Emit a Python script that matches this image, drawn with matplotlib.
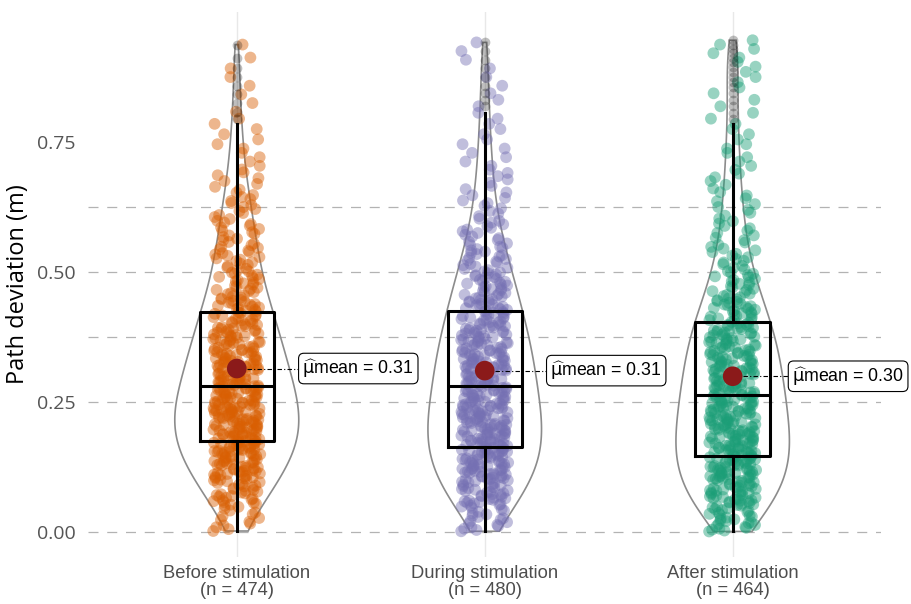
import numpy as np
import matplotlib
matplotlib.use("Agg")
import matplotlib.pyplot as plt
from matplotlib.patches import Polygon

# Path deviation per stimulation phase, stored as counts per 0.05 m bin
groups = ["Before stimulation", "During stimulation", "After stimulation"]
colors = ["#D95F02", "#7570B3", "#1B9E77"]
bin_lo = [0.00, 0.05, 0.10, 0.15, 0.20, 0.25, 0.30, 0.35, 0.40, 0.45,
          0.50, 0.55, 0.60, 0.65, 0.70, 0.75, 0.80, 0.85, 0.90]
before_counts = [14, 30, 46, 57, 58, 52, 45, 39, 32, 24, 20, 16, 13, 9, 6, 5, 3, 3, 2]
during_counts = [20, 36, 50, 53, 52, 47, 45, 40, 34, 28, 21, 15, 10, 8, 6, 5, 4, 3, 3]
after_counts = [28, 42, 51, 51, 48, 45, 42, 38, 30, 21, 15, 11, 9, 7, 6, 5, 4, 5, 6]
BIN_W = 0.05
label_offsets = [0.25, 0.25, 0.225]


def expand(counts):
    vals = []
    for lo, c in zip(bin_lo, counts):
        for k in range(c):
            vals.append(lo + (k + 0.5) / c * BIN_W)
    return np.array(vals)


def kde(vals, grid):
    n = len(vals)
    q1, q3 = np.percentile(vals, [25, 75])
    bw = 0.9 * min(vals.std(ddof=1), (q3 - q1) / 1.34) * n ** -0.2
    z = (grid[:, None] - vals[None, :]) / bw
    return np.exp(-0.5 * z ** 2).sum(axis=1) / (n * bw * np.sqrt(2 * np.pi))


data = [expand(before_counts), expand(during_counts), expand(after_counts)]
positions = [1, 2, 3]

fig = plt.figure(figsize=(9.12, 6.04), dpi=100)
ax = fig.add_axes([0.0965, 0.078, 0.870, 0.902])
ax.set_xlim(0.4, 3.6)
ax.set_ylim(-0.048, 1.0)

for y in [0, 0.25, 0.375, 0.5, 0.625]:
    ax.axhline(y, color="#b3b3b3", lw=0.9, ls=(0, (8, 7)), zorder=0)
for x in positions:
    ax.axvline(x, color="#e8e8e8", lw=1.0, zorder=0)

# violins (area scaled, trimmed)
dens = []
for vals in data:
    grid = np.linspace(vals.min(), vals.max(), 512)
    dens.append((grid, kde(vals, grid)))
dmax = max(d.max() for _, d in dens)
for pos, (grid, d) in zip(positions, dens):
    hw = 0.25 * d / dmax
    xs = np.concatenate([pos + hw, (pos - hw)[::-1]])
    ys = np.concatenate([grid, grid[::-1]])
    ax.add_patch(Polygon(np.column_stack([xs, ys]), closed=True, fill=False,
                         edgecolor="#8c8c8c", lw=1.2, zorder=2))

# jittered points
phi = 0.6180339887
for pos, vals, col in zip(positions, data, colors):
    i = np.arange(len(vals))
    off = ((i * phi + i * i * 0.7071067812) % 1.0 - 0.5) * 0.19
    ax.scatter(pos + off, vals, s=72, color=col, alpha=0.45, edgecolors="none", zorder=3)

# boxplots
ax.boxplot(data, positions=positions, widths=0.3, showcaps=False,
           boxprops=dict(color="black", lw=2.2),
           whiskerprops=dict(color="black", lw=2.2),
           medianprops=dict(color="black", lw=2.2),
           flierprops=dict(marker="o", markerfacecolor="black", markeredgecolor="none",
                           alpha=0.25, markersize=7),
           manage_ticks=False, zorder=4)

# means and labels
for pos, vals, dx in zip(positions, data, label_offsets):
    m = vals.mean()
    ax.plot([pos, pos + dx], [m, m], color="black", lw=0.8, ls=(0, (4, 2, 1, 2)), zorder=5)
    ax.scatter([pos], [m], s=200, color="#8B1A1A", edgecolors="none", zorder=6)
    ax.text(pos + dx + 0.015, m, r"$\widehat{\mathrm{\mu}}$" + f"mean = {m:.2f}", ha="left", va="center",
            fontsize=12.8, family="Liberation Sans", color="black", zorder=7,
            bbox=dict(boxstyle="round,pad=0.22,rounding_size=0.3", fc="white", ec="black", lw=0.8))

ax.set_xticks(positions)
ax.set_xticklabels([f"{g}\n(n = {len(v)})" for g, v in zip(groups, data)],
                   fontsize=13.2, family="Liberation Sans", color="#4d4d4d", linespacing=1.0)
ax.set_yticks([0, 0.25, 0.5, 0.75])
ax.set_yticklabels(["0.00", "0.25", "0.50", "0.75"], fontsize=14, family="Open Sans", color="#555555")
ax.tick_params(length=0, axis="y", pad=9)
ax.tick_params(length=0, axis="x", pad=6)
ax.set_ylabel("Path deviation (m)", fontsize=17, family="Open Sans", labelpad=5)
for s in ax.spines.values():
    s.set_visible(False)

fig.savefig("out.png", dpi=100)
